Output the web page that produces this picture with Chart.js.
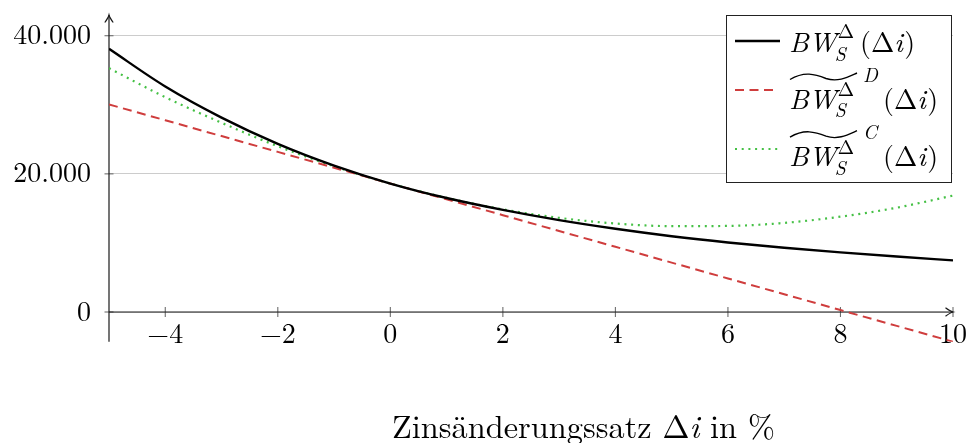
<!DOCTYPE html>
<html>
<head>
<meta charset="utf-8">
<script src="https://cdn.jsdelivr.net/npm/chart.js@4.4.1/dist/chart.umd.min.js"></script>
<style>
  html, body { margin: 0; padding: 0; background: #ffffff; overflow: hidden; }
  canvas { display: block; }
</style>
</head>
<body>
<canvas id="chart" width="968" height="443"></canvas>
<script>
// Zinsänderung Δi in Prozentpunkten
const deltaI = [-5, -4, -3, -2, -1, 0, 1, 2, 3, 4, 5, 6, 7, 8, 9, 10];
// exakter Barwert
const bwExact = [38100, 32650, 28150, 24350, 21200, 18600, 16500, 14780, 13300, 12050, 10970, 10070, 9310, 8640, 8030, 7480];
// Näherung über die Duration (Tangente)
const bwDuration = [30050, 27760, 25470, 23180, 20890, 18600, 16310, 14020, 11730, 9440, 7150, 4860, 2570, 280, -2010, -4300];
// Näherung über Duration und Konvexität
const bwConvexity = [35300, 31100, 27400, 24000, 21100, 18600, 16520, 14860, 13630, 12810, 12430, 12460, 12900, 13800, 15100, 16850];

const xTicks = [-4, -2, 0, 2, 4, 6, 8, 10];
const yTicks = [0, 20000, 40000];
const xRange = [-5, 10];
const yRange = [-4300, 43000];

const SERIF = '"Latin Modern Roman", "CMU Serif", serif';
const RED = '#cf3d3d';
const GREEN = '#45c045';
const AXIS = '#1a1a1a';

const toPoints = ys => deltaI.map((x, k) => ({ x: x, y: ys[k] }));

function fmt(v) {
  const sign = v < 0 ? '\u2212' : '';
  const s = String(Math.abs(Math.round(v))).replace(/\B(?=(\d{3})+(?!\d))/g, '.');
  return sign + s;
}

// Pfeilspitze im Stil von LaTeX "to"
function arrowHead(ctx, tipX, tipY, dirX, dirY) {
  const len = 7.5, half = 4.2;
  const px = -dirY, py = dirX;
  const bx = tipX - dirX * len, by = tipY - dirY * len;
  ctx.beginPath();
  ctx.moveTo(bx + px * half, by + py * half);
  ctx.quadraticCurveTo(tipX - dirX * len * 0.35 + px * half * 0.15, tipY - dirY * len * 0.35 + py * half * 0.15, tipX, tipY);
  ctx.quadraticCurveTo(tipX - dirX * len * 0.35 - px * half * 0.15, tipY - dirY * len * 0.35 - py * half * 0.15, bx - px * half, by - py * half);
  ctx.stroke();
}

const axesPlugin = {
  id: 'axesPlugin',
  beforeDatasetsDraw(chart) {
    const ctx = chart.ctx;
    const xs = chart.scales.x, ys = chart.scales.y;
    const area = chart.chartArea;
    const x0 = xs.getPixelForValue(xRange[0]);
    const y0 = ys.getPixelForValue(0);
    ctx.save();
    // Teilstriche
    ctx.strokeStyle = '#6e6e6e';
    ctx.lineWidth = 1.1;
    xTicks.forEach(v => {
      const px = xs.getPixelForValue(v);
      ctx.beginPath(); ctx.moveTo(px, y0 - 5); ctx.lineTo(px, y0 + 5); ctx.stroke();
    });
    yTicks.forEach(v => {
      const py = ys.getPixelForValue(v);
      ctx.beginPath(); ctx.moveTo(x0 - 4.5, py); ctx.lineTo(x0 + 4.5, py); ctx.stroke();
    });
    // Achsen
    ctx.strokeStyle = AXIS;
    ctx.lineWidth = 1.2;
    ctx.beginPath(); ctx.moveTo(x0, y0); ctx.lineTo(area.right, y0); ctx.stroke();
    ctx.beginPath(); ctx.moveTo(x0, area.bottom); ctx.lineTo(x0, area.top); ctx.stroke();
    arrowHead(ctx, area.right, y0, 1, 0);
    arrowHead(ctx, x0, area.top, 0, -1);
    ctx.restore();
  },
  afterDraw(chart) {
    const ctx = chart.ctx;
    ctx.save();
    drawLegend(ctx, chart);
    drawAxisTitle(ctx);
    ctx.restore();
  }
};

// Achsenbeschriftung, Schriftgröße so gewählt, dass sie 383 px breit ist
function drawAxisTitle(ctx) {
  const pieces = [
    { t: 'Zinsänderungssatz ', it: false },
    { t: 'Δ', it: false },
    { t: 'i', it: true },
    { t: ' in %', it: false }
  ];
  const fontFor = (p, size) => (p.it ? 'italic ' : '') + size + 'px ' + SERIF;
  let w = 0;
  pieces.forEach(p => { ctx.font = fontFor(p, 30); w += ctx.measureText(p.t).width; });
  const size = 30 * 383 / w;
  let x = 583.5 - 383 / 2;
  ctx.fillStyle = '#000';
  ctx.textAlign = 'left';
  ctx.textBaseline = 'alphabetic';
  pieces.forEach(p => {
    ctx.font = fontFor(p, size);
    ctx.fillText(p.t, x, 438);
    x += ctx.measureText(p.t).width;
  });
}

function drawTilde(ctx, x, ty) {
  ctx.beginPath();
  ctx.moveTo(x + 2, ty + 3.5);
  ctx.bezierCurveTo(x + 16, ty - 5, x + 27, ty - 2, x + 38, ty + 2.5);
  ctx.bezierCurveTo(x + 50, ty + 6.5, x + 60, ty + 1, x + 69, ty - 3);
  ctx.stroke();
}

function drawBW(ctx, x, base, supBase, subBase) {
  ctx.font = 'italic 28px ' + SERIF;
  ctx.fillText('BW', x, base);
  const w = ctx.measureText('BW').width;
  ctx.font = '19.6px ' + SERIF;
  ctx.fillText('Δ', x + w + 1, supBase);
  ctx.font = 'italic 19.6px ' + SERIF;
  ctx.fillText('S', x + w - 2, subBase);
  return x + w;
}

function drawArg(ctx, x, base) {
  ctx.font = '28px ' + SERIF;
  ctx.fillText('(', x, base);
  let cx = x + ctx.measureText('(').width;
  ctx.fillText('Δ', cx, base);
  cx += ctx.measureText('Δ').width;
  ctx.font = 'italic 28px ' + SERIF;
  ctx.fillText('i', cx, base);
  cx += ctx.measureText('i').width + 1.5;
  ctx.font = '28px ' + SERIF;
  ctx.fillText(')', cx, base);
}

function drawLegend(ctx, chart) {
  const box = { l: 726, t: 15, r: 952, b: 183 };
  ctx.fillStyle = '#ffffff';
  ctx.fillRect(box.l, box.t, box.r - box.l, box.b - box.t);
  ctx.strokeStyle = '#222';
  ctx.lineWidth = 1;
  ctx.strokeRect(box.l + 0.5, box.t + 0.5, box.r - box.l - 1, box.b - box.t - 1);

  const ds = chart.data.datasets;
  const sample = (d, y, x1, x2) => {
    ctx.save();
    ctx.strokeStyle = d.borderColor;
    ctx.lineWidth = d.borderWidth;
    ctx.setLineDash(d.borderDash || []);
    ctx.beginPath(); ctx.moveTo(x1, y); ctx.lineTo(x2, y); ctx.stroke();
    ctx.restore();
  };
  sample(ds[0], 41, 735, 780);
  sample(ds[1], 90, 735, 777);
  sample(ds[2], 149, 735, 781);

  ctx.fillStyle = '#000';
  ctx.strokeStyle = '#000';
  ctx.textAlign = 'left';
  ctx.textBaseline = 'alphabetic';

  // Eintrag 1: exakter Barwert
  drawBW(ctx, 789, 51.5, 37.5, 61);
  drawArg(ctx, 860, 51.5);

  // Einträge 2 und 3: Näherungen mit Tilde
  const marks = ['D', 'C'];
  [0, 57.7].forEach((dy, k) => {
    ctx.lineWidth = 1.4;
    drawTilde(ctx, 788, 76 + dy);
    ctx.font = 'italic 19.6px ' + SERIF;
    ctx.fillText(marks[k], 863, 81.5 + dy);
    drawBW(ctx, 789, 108.5 + dy, 96 + dy, 117 + dy);
    drawArg(ctx, 883, 108.5 + dy);
  });
}

new Chart(document.getElementById('chart'), {
  type: 'line',
  data: {
    datasets: [
      {
        label: 'BW exakt',
        data: toPoints(bwExact),
        borderColor: '#000000',
        borderWidth: 2.4,
        pointRadius: 0,
        cubicInterpolationMode: 'monotone',
        fill: false
      },
      {
        label: 'BW Duration',
        data: toPoints(bwDuration),
        borderColor: RED,
        borderWidth: 2,
        borderDash: [9, 5.5],
        pointRadius: 0,
        tension: 0,
        fill: false
      },
      {
        label: 'BW Konvexität',
        data: toPoints(bwConvexity),
        borderColor: GREEN,
        borderWidth: 2.2,
        borderDash: [2, 4.7],
        pointRadius: 0,
        cubicInterpolationMode: 'monotone',
        fill: false
      }
    ]
  },
  options: {
    responsive: false,
    animation: false,
    devicePixelRatio: 1,
    layout: { padding: { left: 0, top: 15, right: 15, bottom: 101.3 } },
    plugins: { legend: { display: false }, tooltip: { enabled: false } },
    scales: {
      x: {
        type: 'linear',
        min: xRange[0],
        max: xRange[1],
        position: { y: 0 },
        grid: { display: false, drawTicks: false },
        border: { display: false },
        afterBuildTicks: s => { s.ticks = xTicks.map(v => ({ value: v })); },
        afterFit: s => { s.paddingLeft = 0; s.paddingRight = 0; },
        ticks: {
          font: { family: SERIF, size: 28 },
          color: '#000',
          padding: 6,
          maxRotation: 0,
          autoSkip: false,
          callback: v => fmt(v)
        }
      },
      y: {
        type: 'linear',
        min: yRange[0],
        max: yRange[1],
        grid: { color: '#cccccc', lineWidth: 1, drawTicks: false },
        border: { display: false },
        afterBuildTicks: s => { s.ticks = yTicks.map(v => ({ value: v })); },
        afterFit: s => { s.width = 109; s.paddingTop = 0; s.paddingBottom = 0; },
        ticks: {
          font: { family: SERIF, size: 28 },
          color: '#000',
          padding: 18,
          autoSkip: false,
          callback: v => fmt(v)
        }
      }
    }
  },
  plugins: [axesPlugin]
});
</script>
</body>
</html>
